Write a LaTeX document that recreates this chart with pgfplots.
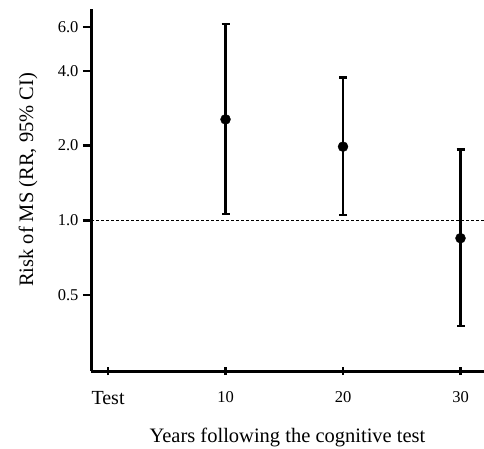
\documentclass[border=0pt]{standalone}
\usepackage{fontspec}
\setmainfont{Liberation Serif}
\usepackage{pgfplots}
\pgfplotsset{compat=1.18}

\begin{document}
\begin{tikzpicture}
\useasboundingbox (-91pt,-77pt) rectangle (393pt,371pt);
\begin{axis}[
  scale only axis, width=393pt, height=362pt,
  at={(0,0)}, anchor=south west,
  ymode=log, ymin=0.247, ymax=7.1,
  xmin=-1.45, xmax=32,
  axis lines=left, axis line style={line width=3pt, -},
  xtick={0,10,20,30},
  xticklabels={{\fontsize{20}{20}\selectfont Test},10,20,30},
  ytick={0.5,1,2,4,6},
  yticklabels={0.5,1.0,2.0,4.0,6.0},
  minor ytick={},
  tick style={line width=2.6pt, black},
  xtick align=center, ytick align=outside,
  major tick length=8pt,
  /pgf/number format/assume math mode=true,
  tick label style={font=\fontsize{16.5}{17}\selectfont},
  xticklabel style={anchor=north, yshift=-13pt},
  yticklabel style={anchor=east, xshift=-1pt},
  xlabel={Years following the cognitive test},
  ylabel={Risk of MS (RR, 95\% CI)},
  label style={font=\fontsize{20.5}{21}\selectfont},
  xlabel style={at={(axis description cs:0.5,-0.184)}, anchor=center},
  ylabel style={at={(axis description cs:-0.160,0.528)}, anchor=center},
  clip=false,
]
\addplot[black, dash pattern=on 3pt off 2pt, line width=1pt]
  coordinates {(-1.45,1) (32,1)};
\addplot[black, only marks, mark=*, mark size=5pt,
  error bars/.cd, y dir=both, y explicit,
  error bar style={line width=2.4pt},
  error mark options={rotate=90, mark size=4pt, line width=2.2pt}]
  table[x=x, y=y, y error plus=ep, y error minus=em] {
  x   y     ep     em
  10  2.55  3.61   1.493
  20  1.98  1.78   0.933
  30  0.847 1.083  0.471
};
\end{axis}
\end{tikzpicture}
\end{document}
